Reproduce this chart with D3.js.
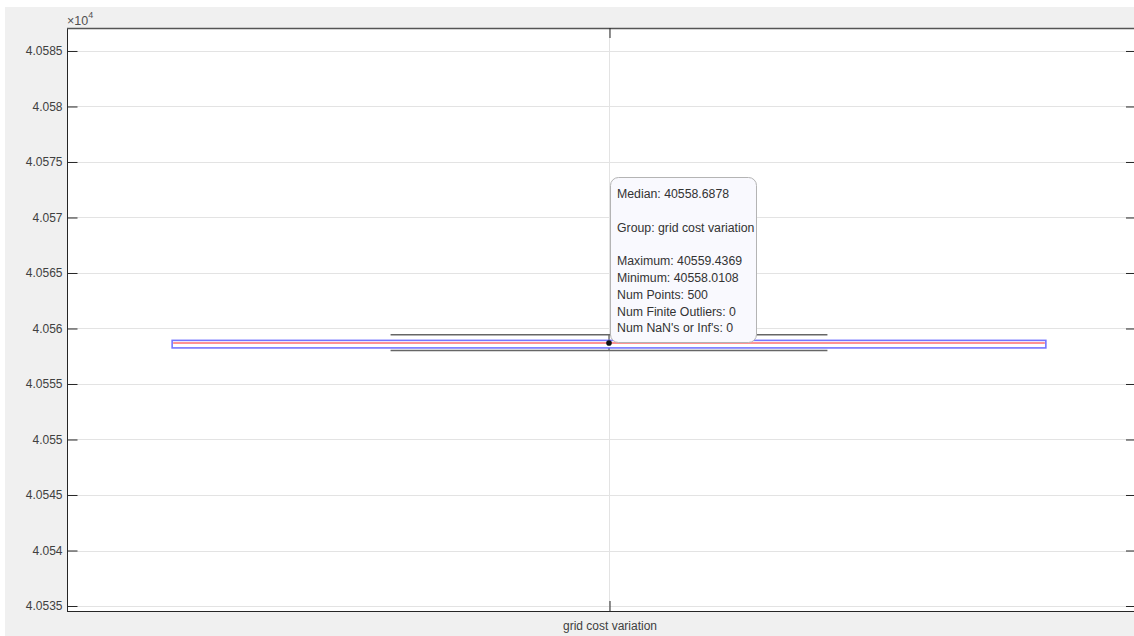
<!DOCTYPE html>
<html>
<head>
<meta charset="utf-8">
<script src="https://cdn.jsdelivr.net/npm/d3@7"></script>
<style>
  html, body { margin: 0; padding: 0; background: #ffffff; }
  svg { display: block; }
  text { font-family: "Liberation Sans", Arial, Helvetica, sans-serif; }
</style>
</head>
<body>
<svg id="chart" width="1134" height="636"></svg>
<script>
// Box chart summary for one group
const categories = ["grid cost variation"];
const medians = [40558.6878];
const upperQuartiles = [40558.93];
const lowerQuartiles = [40558.25];
const maximums = [40559.4369];
const minimums = [40558.0108];
const numPoints = [500];
const numOutliers = [0];
const numNonFinite = [0];

// Y axis ticks (values in units of 10^4 on the labels)
const yTickValues = [40535, 40540, 40545, 40550, 40555, 40560, 40565, 40570, 40575, 40580, 40585];
const yTickLabels = ["4.0535", "4.054", "4.0545", "4.055", "4.0555", "4.056", "4.0565", "4.057", "4.0575", "4.058", "4.0585"];

const svg = d3.select("#chart");

// figure background
svg.append("rect").attr("x", 5).attr("y", 7).attr("width", 1129).attr("height", 629).attr("fill", "#f0f0f0");

const plotLeft = 67, plotTop = 28, plotBottom = 611, frameRight = 1151, tickRight = 1136;

const y = d3.scaleLinear().domain([40534.55, 40587.07]).range([plotBottom, plotTop]);
const x = d3.scaleBand().domain(categories).range([plotLeft, frameRight]).padding(0);

// plot area
svg.append("rect").attr("x", plotLeft).attr("y", plotTop).attr("width", frameRight - plotLeft).attr("height", plotBottom - plotTop).attr("fill", "#ffffff");

// grid lines
const grid = svg.append("g");
grid.selectAll("line.h").data(yTickValues).join("line")
  .attr("class", "h")
  .attr("x1", plotLeft).attr("x2", frameRight)
  .attr("y1", d => Math.round(y(d)) + 0.5).attr("y2", d => Math.round(y(d)) + 0.5)
  .attr("stroke", "#e3e3e3").attr("stroke-width", 1);
grid.selectAll("line.v").data(categories).join("line")
  .attr("class", "v")
  .attr("x1", d => x(d) + x.bandwidth() / 2 + 0.5).attr("x2", d => x(d) + x.bandwidth() / 2 + 0.5)
  .attr("y1", plotTop).attr("y2", plotBottom)
  .attr("stroke", "#e3e3e3").attr("stroke-width", 1);

// boxes
const boxFrac = 0.806;
const g = svg.append("g");
categories.forEach((c, i) => {
  const cx = x(c) + x.bandwidth() / 2;
  const bw = x.bandwidth() * boxFrac;
  const ww = bw / 2;
  // whiskers
  g.append("line").attr("x1", cx).attr("x2", cx).attr("y1", y(maximums[i])).attr("y2", y(upperQuartiles[i]))
    .attr("stroke", "#555").attr("stroke-width", 1.2);
  g.append("line").attr("x1", cx).attr("x2", cx).attr("y1", y(lowerQuartiles[i])).attr("y2", y(minimums[i]))
    .attr("stroke", "#555").attr("stroke-width", 1.2);
  g.append("line").attr("x1", cx - ww / 2).attr("x2", cx + ww / 2).attr("y1", y(maximums[i])).attr("y2", y(maximums[i]))
    .attr("stroke", "#666").attr("stroke-width", 1.6);
  g.append("line").attr("x1", cx - ww / 2).attr("x2", cx + ww / 2).attr("y1", y(minimums[i])).attr("y2", y(minimums[i]))
    .attr("stroke", "#666").attr("stroke-width", 1.6);
  // box
  g.append("rect").attr("x", cx - bw / 2).attr("width", bw)
    .attr("y", y(upperQuartiles[i])).attr("height", y(lowerQuartiles[i]) - y(upperQuartiles[i]))
    .attr("fill", "#ffffff").attr("stroke", "#5c5cff").attr("stroke-width", 1.6).attr("stroke-opacity", 0.85);
  // median
  g.append("line").attr("x1", cx - bw / 2 + 1).attr("x2", cx + bw / 2 - 1).attr("y1", y(medians[i])).attr("y2", y(medians[i]))
    .attr("stroke", "#ff6f6f").attr("stroke-width", 1.6);
});

// axes frame
const frame = svg.append("g").attr("stroke", "#262626").attr("stroke-width", 1).attr("fill", "none");
frame.append("line").attr("x1", plotLeft + 0.5).attr("x2", plotLeft + 0.5).attr("y1", plotTop).attr("y2", plotBottom);
frame.append("line").attr("x1", plotLeft).attr("x2", frameRight).attr("y1", plotBottom + 0.5).attr("y2", plotBottom + 0.5);
frame.append("line").attr("x1", plotLeft).attr("x2", frameRight).attr("y1", plotTop + 0.5).attr("y2", plotTop + 0.5).attr("stroke", "#555").attr("stroke-width", 1.5);

// left y axis
const yAxis = d3.axisLeft(y).tickValues(yTickValues).tickFormat((d, i) => yTickLabels[i]).tickSizeInner(-10).tickSizeOuter(0).tickPadding(5);
const ya = svg.append("g").attr("transform", `translate(${plotLeft + 0.5},0)`).call(yAxis);
ya.select(".domain").remove();
ya.selectAll(".tick line").attr("stroke", "#262626");
ya.selectAll(".tick text").attr("font-size", 12).attr("fill", "#404040").attr("font-family", "Liberation Sans, Arial, sans-serif");

// right-side ticks
const yAxisR = d3.axisLeft(y).tickValues(yTickValues).tickFormat("").tickSizeInner(10).tickSizeOuter(0);
const yr = svg.append("g").attr("transform", `translate(${tickRight},0)`).call(yAxisR);
yr.select(".domain").remove();
yr.selectAll(".tick line").attr("stroke", "#262626");

// x axis (bottom and top ticks)
const xPoint = d3.scalePoint().domain(categories).range([plotLeft, frameRight]).padding(0.5);
const xAxis = d3.axisBottom(xPoint).tickSizeInner(-10).tickSizeOuter(0).tickPadding(6);
const xa = svg.append("g").attr("transform", `translate(0.5,${plotBottom})`).call(xAxis);
xa.select(".domain").remove();
xa.selectAll(".tick line").attr("stroke", "#262626");
xa.selectAll(".tick text").attr("font-size", 12).attr("fill", "#404040").attr("dy", "1.1em").attr("font-family", "Liberation Sans, Arial, sans-serif");
const xTop = d3.axisTop(xPoint).tickSizeInner(-10).tickSizeOuter(0).tickFormat("");
const xt = svg.append("g").attr("transform", `translate(0.5,${plotTop})`).call(xTop);
xt.select(".domain").remove();
xt.selectAll(".tick line").attr("stroke", "#262626");

// exponent label
const expo = svg.append("text").attr("x", 67).attr("y", 25).attr("font-size", 12.5).attr("fill", "#505050");
expo.append("tspan").text("×10");
expo.append("tspan").attr("font-size", 9).attr("dy", -7).text("4");

// data tip on the median
const cx0 = xPoint(categories[0]);
const tipLines = [
  "Median: " + medians[0].toFixed(4),
  "",
  "Group: " + categories[0],
  "",
  "Maximum: " + maximums[0].toFixed(4),
  "Minimum: " + minimums[0].toFixed(4),
  "Num Points: " + numPoints[0],
  "Num Finite Outliers: " + numOutliers[0],
  "Num NaN's or Inf's: " + numNonFinite[0]
];
const tip = svg.append("g");
tip.append("rect").attr("x", 610.5).attr("y", 177.5).attr("width", 146).attr("height", 165).attr("rx", 8).attr("ry", 8)
  .attr("fill", "#f9f9fe").attr("stroke", "#b4b4b4").attr("stroke-width", 1);
tip.selectAll("text").data(tipLines).join("text")
  .attr("x", 617).attr("y", (d, i) => 198 + i * 16.8)
  .attr("font-size", 12.3).attr("fill", "#333").text(d => d);
svg.append("circle").attr("cx", cx0).attr("cy", y(medians[0])).attr("r", 2.8).attr("fill", "#111");
</script>
</body>
</html>
